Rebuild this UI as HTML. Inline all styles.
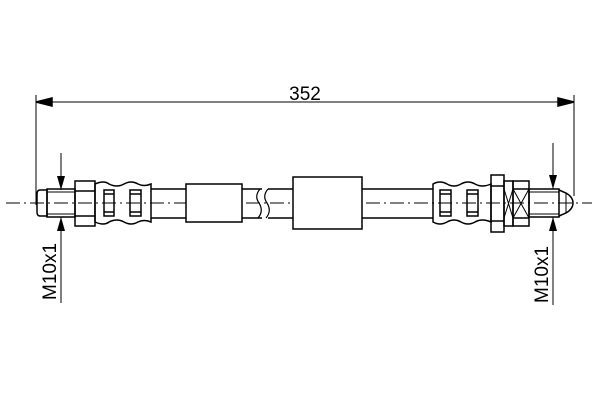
<!DOCTYPE html>
<html><head><style>body{margin:0;background:#fff}svg{display:block}</style></head><body>
<svg width="600" height="400" viewBox="0 0 600 400" xmlns="http://www.w3.org/2000/svg" fill="none" stroke="#000" stroke-width="1.5">
<line x1="6" y1="203" x2="592" y2="203" stroke-width="1" stroke-dasharray="14,4,2,4"/>
<!-- dimension -->
<line x1="36" y1="95" x2="36" y2="205" stroke-width="1"/>
<line x1="574" y1="95" x2="574" y2="196" stroke-width="1"/>
<line x1="36" y1="102" x2="574" y2="102" stroke-width="1"/>
<polygon points="36,102 52,98 52,106" fill="#000"/>
<polygon points="574,102 558,98 558,106" fill="#000"/>
<text x="305" y="100" font-family="Liberation Sans, sans-serif" font-size="19" text-anchor="middle" fill="#000" stroke="none">352</text>
<!-- left fitting -->
<path d="M40,190 H47 V216 H40 Q37,216 37,212 V194 Q37,190 40,190 Z"/>
<rect x="47" y="189" width="28" height="28"/>
<line x1="47" y1="192" x2="75" y2="192" stroke-width="1"/>
<line x1="47" y1="214" x2="75" y2="214" stroke-width="1"/>
<rect x="75" y="181" width="20" height="45"/>
<line x1="75" y1="191" x2="95" y2="191"/><line x1="75" y1="216" x2="95" y2="216"/>
<path d="M95,184 Q104,180 109,184 Q117,188 124,184 Q131,180 138,184 Q144,187 151,184 V222 Q144,219 138,222 Q131,226 124,222 Q117,218 109,222 Q104,226 95,222 Z"/>
<rect x="104" y="190" width="10" height="26"/><rect x="130" y="190" width="11" height="26"/>
<line x1="104" y1="194" x2="114" y2="194"/><line x1="104" y1="212" x2="114" y2="212"/>
<line x1="130" y1="194" x2="141" y2="194"/><line x1="130" y1="212" x2="141" y2="212"/>
<!-- hose left -->
<line x1="151" y1="189" x2="262" y2="189"/><line x1="151" y1="218" x2="262" y2="218"/>
<rect x="186" y="184" width="56" height="38" fill="#fff"/>
<path d="M260,189 Q254,196 259,203 Q264,211 258,218" stroke-width="1.2"/>
<path d="M268,189 Q262,196 267,203 Q272,211 266,218" stroke-width="1.2"/>
<line x1="268" y1="189" x2="433" y2="189"/><line x1="268" y1="218" x2="433" y2="218"/>
<rect x="293" y="177" width="69" height="52" fill="#fff"/>
<!-- right fitting -->
<path d="M433,184 Q440,180 447,184 Q454,188 461,184 Q468,180 475,184 Q482,188 491,184 V222 Q482,218 475,222 Q468,226 461,222 Q454,218 447,222 Q440,226 433,222 Z"/>
<rect x="440" y="190" width="11" height="26"/><rect x="467" y="190" width="11" height="26"/>
<line x1="440" y1="194" x2="451" y2="194"/><line x1="440" y1="212" x2="451" y2="212"/>
<line x1="467" y1="194" x2="478" y2="194"/><line x1="467" y1="212" x2="478" y2="212"/>
<rect x="491" y="175" width="13" height="57"/>
<line x1="491" y1="186" x2="504" y2="186"/><line x1="491" y1="221" x2="504" y2="221"/>
<rect x="504" y="181" width="9" height="45"/>
<rect x="513" y="181" width="16" height="45"/>
<line x1="513" y1="189" x2="529" y2="189"/><line x1="513" y1="218" x2="529" y2="218"/>
<line x1="504" y1="189" x2="513" y2="218" stroke-width="1"/><line x1="504" y1="218" x2="513" y2="189" stroke-width="1"/>
<line x1="513" y1="189" x2="529" y2="218" stroke-width="1"/><line x1="513" y1="218" x2="529" y2="189" stroke-width="1"/>
<rect x="529" y="189" width="30" height="28"/>
<line x1="529" y1="192" x2="559" y2="192" stroke-width="1"/><line x1="529" y1="214" x2="559" y2="214" stroke-width="1"/>
<path d="M559,190 L566,193 Q573,197 573,203 Q573,209 566,213 L559,216"/>
<line x1="566" y1="193" x2="566" y2="213" stroke-width="1"/>
<!-- M10x1 arrows -->
<line x1="61" y1="153" x2="61" y2="190" stroke-width="1"/>
<polygon points="61,190 57,176 65,176" fill="#000" stroke="none"/>
<line x1="61" y1="217" x2="61" y2="303" stroke-width="1"/>
<polygon points="61,217 57,231 65,231" fill="#000" stroke="none"/>
<line x1="553" y1="143" x2="553" y2="189" stroke-width="1"/>
<polygon points="553,189 549,175 557,175" fill="#000" stroke="none"/>
<line x1="553" y1="217" x2="553" y2="305" stroke-width="1"/>
<polygon points="553,217 549,231 557,231" fill="#000" stroke="none"/>
<text transform="translate(56,300) rotate(-90)" font-family="Liberation Sans, sans-serif" font-size="19" fill="#000" stroke="none">M10x1</text>
<text transform="translate(548,303) rotate(-90)" font-family="Liberation Sans, sans-serif" font-size="19" fill="#000" stroke="none">M10x1</text>
</svg>
</body></html>
